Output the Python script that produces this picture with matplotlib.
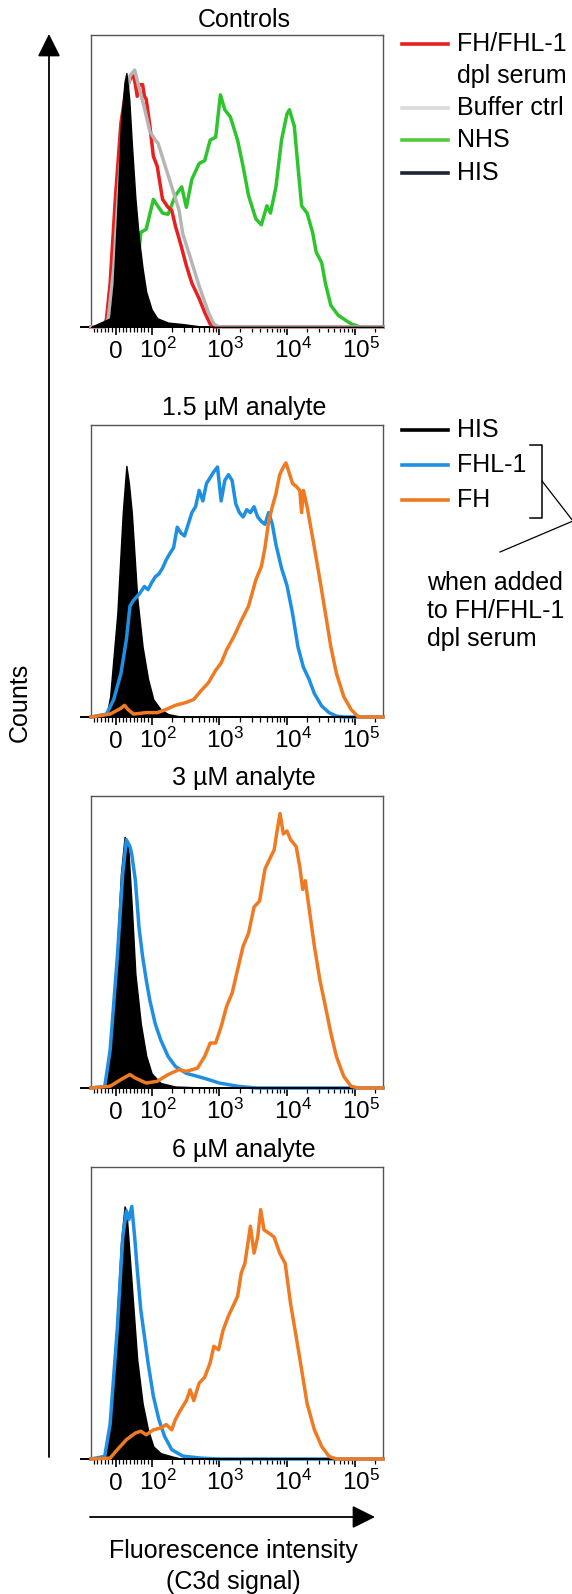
import numpy as np
import matplotlib
matplotlib.use("Agg")
import matplotlib.pyplot as plt
from matplotlib.lines import Line2D
from matplotlib.patches import FancyArrowPatch
import matplotlib.transforms as mtransforms

plt.rcParams['font.family'] = ['Liberation Sans', 'DejaVu Sans']
plt.rcParams['mathtext.fontset'] = 'custom'
plt.rcParams['mathtext.rm'] = 'Liberation Sans'

# ---- data: fluorescence value (x) vs counts in % of panel height (y) ----
titles = ["Controls", "1.5 µM analyte", "3 µM analyte", "6 µM analyte"]
tick_vals = [0, 100, 1000, 10000, 100000]
tick_labels = ["0", r"$\mathregular{10^2}$", r"$\mathregular{10^3}$",
               r"$\mathregular{10^4}$", r"$\mathregular{10^5}$"]

# controls panel
ctrl_his_x = [-68, -15, -5, 5, 15, 25, 30, 38, 45, 55, 65, 75, 85, 100, 121, 175, 288, 419, 608, 262144]
ctrl_his_y = [0, 3, 15, 40, 70, 84, 87, 78, 63, 44, 30, 20, 12, 6, 3, 1.5, 1, 0.5, 0, 0]
ctrl_dpl_x = [-68, -30, -25, -15, 0, 15, 30, 45, 50, 55, 60, 65, 75, 80, 85, 95, 106, 121, 145, 175,
              198, 224, 271, 326, 393, 504, 608, 733, 830, 262144]
ctrl_dpl_y = [0, 0, 3, 15, 45, 70, 82, 86, 86, 83, 79, 83, 83, 79, 78, 69, 58.5, 55, 43.7, 41,
              40, 34.7, 28, 21, 15, 9.7, 5, 1, 0, 0]
ctrl_buf_x = [-68, -30, -20, -5, 10, 25, 40, 53, 65, 80, 95, 113, 124, 145, 175, 211, 254, 288,
              370, 504, 689, 830, 1000, 262144]
ctrl_buf_y = [0, 0, 3, 20, 50, 75, 86, 88, 82, 75, 67, 64, 63, 58, 52, 46, 40, 32,
              24, 14, 5, 1, 0, 0]
ctrl_nhs_x = [45, 60, 70, 85, 106, 145, 175, 224, 278, 326, 393, 504, 608, 733, 883, 1038, 1205,
              1452, 1862, 2244, 2704, 3468, 4179, 5043, 5702, 6871, 8298, 10000, 10850, 12823,
              14520, 16442, 19814, 23877, 27050, 32583, 36897, 44463, 57150, 88305, 120500, 262144]
ctrl_nhs_y = [5, 20, 32.4, 33.5, 43.7, 39, 38.6, 45, 48, 41, 50.6, 56, 57, 64, 65, 79.5, 74.4,
              72, 64, 55, 45, 37, 35, 41.5, 39, 48, 64, 73, 74.4, 68.8,
              55, 41.5, 39, 32.4, 25.6, 22, 15, 7.4, 4, 1.1, 0, 0]

# 1.5 uM
p2_his_x = [-68, -25, -15, 5, 20, 30, 37, 45, 60, 75, 90, 106, 136, 175, 288, 262144]
p2_his_y = [0, 0.5, 7, 35.5, 70, 86, 80, 70, 41, 24, 13, 6, 2.6, 1, 0, 0]
p2_fhl_x = [-68, -25, -5, 15, 30, 40, 50, 65, 80, 90, 100, 113, 128, 145, 164, 186, 211, 239, 271,
            306, 347, 393, 445, 504, 571, 647, 733, 830, 940, 1064, 1205, 1365, 1545, 1750, 1982,
            2244, 2541, 2878, 3259, 3690, 4179, 4732, 5358, 6068, 6871, 8298, 10000, 12050, 14520,
            17497, 21085, 25409, 32583, 41783, 53703, 70000, 262144]
p2_fhl_y = [0, 1, 6, 15, 26.5, 38, 40, 42, 44.7, 43.6, 46, 48, 49, 51, 53.8, 56, 58, 65, 63,
            62, 66, 70, 72, 77.6, 74, 80, 82, 84, 85.6, 74, 81, 83, 81, 73, 70,
            68.5, 71, 70, 72, 68.5, 67, 66, 70, 66, 59, 51, 45, 35.6, 24,
            17, 13, 8, 3.75, 1.5, 0.3, 0, 0]
p2_fh_x = [-68, -15, 15, 25, 35, 50, 85, 121, 164, 224, 326, 419, 537, 689, 883, 1064, 1283, 1644,
           2109, 2704, 3468, 4179, 4732, 5358, 6068, 6871, 7798, 8830, 9639, 10640, 12050, 13645,
           15451, 16442, 17497, 19814, 22438, 25409, 30620, 36897, 44463, 53703, 68865, 88305,
           113235, 262144]
p2_fh_y = [0, 1, 3, 4, 2.5, 1, 1.5, 1.5, 2.6, 4, 5, 6, 9, 11.7, 16, 18.5, 23, 27.6,
           33, 38, 47, 51.5, 58, 67, 72, 76.5, 83, 85.6, 87, 84, 80, 79,
           77.6, 70, 77.6, 72, 65, 58, 47, 35.6, 24, 15, 7, 2.6,
           0, 0]

# 3 uM
p3_his_x = [-68, -30, -15, 0, 15, 25, 35, 45, 55, 70, 85, 100, 136, 224, 1000, 262144]
p3_his_y = [0, 0.5, 11, 39, 73.5, 86, 82.7, 62, 39, 22, 11, 5, 1.7, 0.5, 0, 0]
p3_fhl_x = [-68, -30, -15, 5, 20, 30, 40, 45, 55, 65, 75, 85, 95, 113, 136, 175, 224, 326, 474,
            689, 1000, 1862, 3468, 262144]
p3_fhl_y = [0, 0.5, 13, 45, 73.5, 85, 82.7, 80, 71, 55, 45, 37, 30, 22, 16.5, 10.8, 7.4, 5, 4,
            2.9, 1.7, 0.6, 0, 0]
p3_fh_x = [-68, -15, 15, 40, 55, 85, 121, 175, 254, 326, 474, 608, 733, 883, 1064, 1283, 1545,
           1862, 2244, 2704, 3259, 3927, 4732, 5702, 6457, 7139, 7888, 8830, 10000, 11324, 13645,
           15451, 17070, 18619, 21085, 25409, 30620, 36897, 44463, 53703, 68865, 88305, 113235,
           262144]
p3_fh_y = [0, 0.6, 2.9, 4.6, 3.4, 1.7, 2.3, 4.6, 6.3, 5.7, 6.8, 10.8, 15.4, 15.4, 21, 28, 32.5,
           40.5, 48.5, 53, 62, 64, 75, 79, 81.5, 88, 94, 87, 88, 85, 82.7,
           75.8, 68, 71, 62, 48.5, 37, 28, 18.8, 10.8, 4, 0.6, 0,
           0]

# 6 uM
p4_his_x = [-68, -30, -15, 0, 15, 25, 30, 40, 50, 60, 75, 90, 106, 136, 198, 288, 262144]
p4_his_y = [0, 0.9, 11, 40, 74, 86.5, 85, 68, 51, 34, 19, 10, 4.3, 2, 0.9, 0, 0]
p4_fhl_x = [-68, -30, -15, 5, 20, 30, 37, 45, 53, 60, 70, 80, 90, 106, 128, 155, 198, 288, 537,
            1000, 262144]
p4_fhl_y = [0, 0.9, 12, 45, 76, 85, 82, 86.5, 76, 65, 51, 42, 33, 21.5, 13.5, 7.8, 3.2, 1, 0.3,
            0, 0]
p4_fh_x = [-68, -15, 5, 30, 55, 70, 85, 106, 136, 164, 198, 224, 271, 326, 370, 419, 504, 608,
           733, 830, 975, 1133, 1365, 1644, 1862, 2109, 2388, 2878, 3259, 3690, 4083, 4563, 5358,
           6457, 7798, 9397, 11324, 13645, 16442, 19814, 25409, 32583, 41783, 53703, 262144]
p4_fh_y = [0, 0.3, 3.2, 6.6, 8.9, 9.5, 8.3, 10, 10.6, 11.8, 10, 13.5, 17, 20, 23.7, 20, 26, 28,
           33, 38.6, 37.4, 44, 49, 53, 55.7, 63.7, 67, 79.7, 70.5, 76, 85.4, 78.5, 77.4,
           76, 70.5, 67, 53, 42, 30.6, 19, 10, 4.3, 0.9, 0, 0]

RED, GREY, GREEN = '#e8201e', '#b9b4b4', '#2ec42e'
BLUE, ORANGE = '#1f8fe3', '#f07a22'

panels = [
    {"his": (ctrl_his_x, ctrl_his_y),
     "lines": [(ctrl_nhs_x, ctrl_nhs_y, GREEN), (ctrl_dpl_x, ctrl_dpl_y, RED),
               (ctrl_buf_x, ctrl_buf_y, GREY)], "his_on_top": True},
    {"his": (p2_his_x, p2_his_y),
     "lines": [(p2_fhl_x, p2_fhl_y, BLUE), (p2_fh_x, p2_fh_y, ORANGE)], "his_on_top": False},
    {"his": (p3_his_x, p3_his_y),
     "lines": [(p3_fhl_x, p3_fhl_y, BLUE), (p3_fh_x, p3_fh_y, ORANGE)], "his_on_top": False},
    {"his": (p4_his_x, p4_his_y),
     "lines": [(p4_fhl_x, p4_fhl_y, BLUE), (p4_fh_x, p4_fh_y, ORANGE)], "his_on_top": False},
]

W, H = 572, 1594
fig = plt.figure(figsize=(W / 100, H / 100), dpi=100)


def fx(px):
    return px / W


def fy(py):
    return 1 - py / H


box_left, box_w, box_h = 91, 292, 292
baselines = [327, 717, 1088, 1459]
title_y = [20, 408, 778, 1150]
FS = 18

minor = [-60, -50, -40, -30, -20, -10, 10, 20, 30, 40, 50, 60, 70, 80, 90]
for dec in [100, 1000, 10000]:
    minor += [k * dec for k in range(2, 10)]
minor += [200000]

for i, p in enumerate(panels):
    ax = fig.add_axes([fx(box_left), fy(baselines[i]), box_w / W, box_h / H])
    ax.set_xscale('symlog', linthresh=100, linscale=0.48)
    ax.set_xlim(-68, 262144)
    ax.set_ylim(0, 100)

    hx, hy = p["his"]
    z_his = 5 if p["his_on_top"] else 1
    ax.fill_between(hx, hy, 0, color='black', lw=1, zorder=z_his)
    for k, (lx, ly, c) in enumerate(p["lines"]):
        ax.plot(lx, ly, color=c, lw=2.5, zorder=2 + k, clip_on=False,
                solid_joinstyle='round')

    for side in ['top', 'left', 'right']:
        ax.spines[side].set_color('#555555')
        ax.spines[side].set_linewidth(1.0)
    ax.spines['bottom'].set_color('black')
    ax.spines['bottom'].set_linewidth(1.4)
    ax.spines['bottom'].set_bounds(-95, 262144)

    ax.set_xticks(tick_vals)
    ax.set_xticklabels([])
    ax.set_xticks(minor, minor=True)
    ax.tick_params(axis='x', which='major', direction='out', length=6, width=1.2)
    ax.tick_params(axis='x', which='minor', direction='out', length=3.5, width=0.9)
    ax.tick_params(axis='y', left=False, labelleft=False)

    for v, lab in zip(tick_vals, tick_labels):
        dx = 0 if v == 0 else 6 / 100
        tr = ax.get_xaxis_transform() + mtransforms.ScaledTranslation(dx, -31 / 100, fig.dpi_scale_trans)
        ax.text(v, 0, lab, transform=tr, ha='center', va='baseline', fontsize=17.5)

    fig.text(fx(244), fy(title_y[i]), titles[i], ha='center', va='center', fontsize=FS)

# legend for controls
leg1 = [("FH/FHL-1", 44, RED), ("dpl serum", 76, None), ("Buffer ctrl", 108, '#dadada'),
        ("NHS", 140, '#55c840'), ("HIS", 173, '#1e2530')]
for txt, yy, c in leg1:
    if c is not None:
        fig.add_artist(Line2D([fx(402), fx(448)], [fy(yy), fy(yy)], color=c, lw=2.6,
                              transform=fig.transFigure))
    fig.text(fx(457), fy(yy), txt, ha='left', va='center', fontsize=FS)

# legend for analyte panels
leg2 = [("HIS", 430, 'black'), ("FHL-1", 465, BLUE), ("FH", 500, ORANGE)]
for txt, yy, c in leg2:
    fig.add_artist(Line2D([fx(402), fx(448)], [fy(yy), fy(yy)], color=c, lw=2.6,
                          transform=fig.transFigure))
    fig.text(fx(457), fy(yy), txt, ha='left', va='center', fontsize=FS)

fig.add_artist(Line2D([fx(530), fx(542), fx(542), fx(530)], [fy(445), fy(445), fy(518), fy(518)],
                      color='black', lw=1.1, transform=fig.transFigure))
fig.add_artist(Line2D([fx(542), fx(573), fx(500)], [fy(481), fy(521), fy(552)],
                      color='black', lw=0.9, transform=fig.transFigure))
for txt, yy in [("when added", 583), ("to FH/FHL-1", 611), ("dpl serum", 639)]:
    fig.text(fx(427), fy(yy), txt, ha='left', va='center', fontsize=FS)

# axis arrows and labels
fig.add_artist(FancyArrowPatch((fx(49), fy(1457)), (fx(49), fy(34)), transform=fig.transFigure,
                               arrowstyle='-|>,head_length=0.7,head_width=0.35',
                               mutation_scale=20, lw=1.3, color='black',
                               shrinkA=0, shrinkB=0))
fig.add_artist(FancyArrowPatch((fx(90), fy(1517)), (fx(375), fy(1517)), transform=fig.transFigure,
                               arrowstyle='-|>,head_length=0.7,head_width=0.35',
                               mutation_scale=20, lw=1.3, color='black',
                               shrinkA=0, shrinkB=0))
fig.text(fx(20), fy(702), "Counts", rotation=90, ha='center', va='center', fontsize=FS)
fig.text(fx(233), fy(1551), "Fluorescence intensity", ha='center', va='center', fontsize=FS)
fig.text(fx(233), fy(1582), "(C3d signal)", ha='center', va='center', fontsize=FS)

fig.savefig("out.png", dpi=100)
